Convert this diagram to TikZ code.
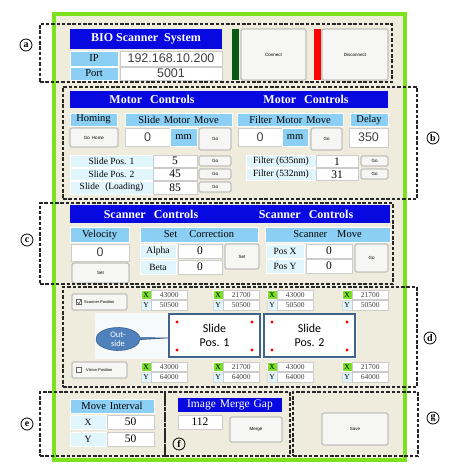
\documentclass[tikz,border=0pt]{standalone}
\usepackage{fontspec}
\setmainfont{Liberation Serif}
\newfontfamily\sansf{Liberation Sans}
\newfontfamily\calib{Carlito}
\usetikzlibrary{shapes.geometric,shapes.callouts}
\definecolor{barblue}{RGB}{8,8,224}
\definecolor{hdrblue}{RGB}{140,207,245}
\definecolor{palecyan}{RGB}{225,245,252}
\definecolor{beige}{RGB}{239,236,222}
\definecolor{btnfill}{RGB}{246,246,244}
\definecolor{btnedge}{RGB}{150,150,150}
\definecolor{framegreen}{RGB}{125,225,30}
\definecolor{dkgreen}{RGB}{10,90,20}
\definecolor{calloutblue}{RGB}{79,129,189}
\definecolor{calloutedge}{RGB}{56,93,138}
\definecolor{slideedge}{RGB}{65,100,140}
\definecolor{xgreen}{RGB}{120,225,40}
\definecolor{panelwhite}{RGB}{246,250,250}
\newcommand\cell[7]{\node[#2,minimum width={(#5-(#3))*1pt},minimum height={(#6-(#4))*1pt}] (#1) at (#3,#4) {#7};}
\newcommand\coordpair[5]{%
  \cell{#1x}{xlab}{#2}{#3}{#2+10}{#3+9.5}{X}
  \cell{#1xv}{cval}{#2+10.5}{#3}{#2+46}{#3+9.5}{#4}
  \cell{#1y}{ylab}{#2}{#3+10}{#2+10}{#3+20}{Y}
  \cell{#1yv}{cval}{#2+10.5}{#3+10}{#2+46}{#3+20}{#5}}
\tikzset{
  cellbase/.style={anchor=north west,inner sep=0pt,outer sep=0pt},
  bluebar/.style={cellbase,fill=barblue,text=white,font=\fontsize{12}{12}\selectfont\bfseries},
  plainbar/.style={cellbase,fill=barblue,text=white,font=\fontsize{11.5}{12}\selectfont},
  bartext/.style={text=white,inner sep=0pt,font=\fontsize{12}{12}\selectfont\bfseries},
  hdr/.style={cellbase,fill=hdrblue,draw=white,line width=0.6pt,font=\fontsize{10.5}{10.5}\selectfont},
  pale/.style={cellbase,fill=palecyan,draw=white,line width=0.6pt,font=\fontsize{9.5}{9.5}\selectfont},
  valbox/.style={cellbase,fill=white,draw=black!20,line width=0.5pt,font=\fontsize{11.5}{11.5}\selectfont},
  svalbox/.style={cellbase,fill=white,draw=black!20,line width=0.5pt,font=\sansf\fontsize{12.5}{12.5}\selectfont\color{black!75}},
  btn/.style={cellbase,fill=btnfill,draw=btnedge,line width=0.6pt,rounded corners=1.5pt,font=\sansf\fontsize{4.5}{4.5}\selectfont},
  sect/.style={cellbase,draw=black!85,line width=1.2pt,dash pattern=on 3.5pt off 1.8pt},
  circlbl/.style={circle,draw,line width=0.8pt,inner sep=0pt,minimum size=12pt,font=\bfseries\fontsize{10}{10}\selectfont},
  xlab/.style={cellbase,fill=xgreen,draw=white,line width=0.5pt,font=\fontsize{7.5}{7.5}\selectfont},
  ylab/.style={cellbase,fill=palecyan,draw=black!15,line width=0.5pt,font=\fontsize{7.5}{7.5}\selectfont},
  cval/.style={cellbase,fill=white,draw=black!20,line width=0.5pt,font=\fontsize{7.5}{7.5}\selectfont\color{black!75}},
  slidebox/.style={cellbase,fill=white,draw=slideedge,line width=1.3pt,align=center,font=\calib\fontsize{12}{14}\selectfont},
  rdot/.style={circle,fill=red,inner sep=0pt,minimum size=3.2pt},
  chk/.style={draw=black!60,fill=white,line width=0.5pt,inner sep=0pt,minimum size=5pt},
  smalltxt/.style={inner sep=0pt,font=\sansf\fontsize{4}{4}\selectfont},
}
\begin{document}
\begin{tikzpicture}[x=1pt,y=-1pt]
\useasboundingbox (0,0) rectangle (449,470);
\fill[white] (0,0) rectangle (449,470);
% main frame
\cell{frame}{cellbase,fill=beige,draw=framegreen,line width=4pt}{54}{14}{405}{460}{}
% ===== section a =====
\cell{title}{bluebar}{70}{29}{222}{49}{BIO Scanner\hspace{6pt}System}
\cell{ipl}{hdr}{70}{51}{118}{66}{IP}
\cell{ipv}{svalbox}{120}{51}{222}{66}{192.168.10.200}
\cell{portl}{hdr}{70}{67}{118}{80}{Port}
\cell{portv}{svalbox}{120}{67}{222}{80}{5001}
\cell{gbar}{cellbase,fill=dkgreen}{232}{29}{239}{80}{}
\cell{connect}{btn}{241}{29}{306}{80}{Connect}
\cell{rbar}{cellbase,fill=red}{314}{29}{321}{80}{}
\cell{disconnect}{btn}{322}{29}{388}{80}{Disconnect}
% ===== section b =====
\cell{mcbar}{cellbase,fill=barblue}{70}{91}{388}{108}{}
\node[bartext] (mc1) at (152,99.5) {Motor\hspace{8pt}Controls};
\node[bartext] (mc2) at (306,99.5) {Motor\hspace{8pt}Controls};
\cell{homh}{hdr}{70}{113}{117}{126}{Homing}
\cell{smh}{hdr}{125}{113}{232}{126}{Slide\hspace{4pt}Motor\hspace{4pt}Move}
\cell{fmh}{hdr}{237}{113}{343}{126}{Filter\hspace{4pt}Motor\hspace{4pt}Move}
\cell{delh}{hdr}{350}{113}{388}{126}{Delay}
\cell{gohome}{btn}{70}{128}{118}{147}{Go\hspace{2pt}Home}
\cell{sval}{svalbox}{125}{128}{170}{146}{0}
\cell{smm}{hdr}{170}{128}{197}{146}{mm}
\cell{sgo}{btn}{199}{128}{231}{150}{Go}
\cell{fval}{svalbox}{238}{128}{282}{146}{0}
\cell{fmm}{hdr}{282}{128}{308}{146}{mm}
\cell{fgo}{btn}{311}{128}{342}{150}{Go}
\cell{delv}{svalbox}{349}{128}{388}{147}{350}
\cell{sp1l}{pale}{70}{155}{153}{167.5}{Slide Pos. 1}
\cell{sp1v}{valbox}{153}{155}{197}{167.5}{5}
\cell{sp1g}{btn}{199}{156}{231}{166}{Go}
\cell{sp2l}{pale}{70}{168}{153}{180.5}{Slide Pos. 2}
\cell{sp2v}{valbox}{153}{168}{197}{180.5}{45}
\cell{sp2g}{btn}{199}{169}{231}{179}{Go}
\cell{sp3l}{pale}{70}{181}{153}{194}{Slide\hspace{6pt}(Loading)}
\cell{sp3v}{valbox}{153}{181}{197}{194}{85}
\cell{sp3g}{btn}{199}{182}{231}{192}{Go}
\cell{f1l}{pale}{246}{155}{316}{167.5}{Filter (635nm)}
\cell{f1v}{valbox}{316}{155}{358}{167.5}{1}
\cell{f1g}{btn}{361}{156}{388}{166}{Go}
\cell{f2l}{pale}{246}{168}{316}{180.5}{Filter (532nm)}
\cell{f2v}{valbox}{316}{168}{358}{180.5}{31}
\cell{f2g}{btn}{361}{169}{388}{179}{Go}
% ===== section c =====
\cell{scbar}{cellbase,fill=barblue}{70}{205}{390}{223}{}
\node[bartext] (sc1) at (151,214) {Scanner\hspace{8pt}Controls};
\node[bartext] (sc2) at (306,214) {Scanner\hspace{8pt}Controls};
\cell{velh}{hdr}{70}{227}{129}{242}{Velocity}
\cell{scorh}{hdr}{140}{227}{258}{242}{Set\hspace{12pt}Correction}
\cell{smvh}{hdr}{265}{227}{390}{242}{Scanner\hspace{10pt}Move}
\cell{velv}{svalbox}{71}{244}{129}{261}{0}
\cell{velset}{btn}{72}{263}{129}{283}{Set}
\cell{alphl}{pale}{140}{244}{176}{258}{Alpha}
\cell{alphv}{valbox}{178}{244}{222}{258}{0}
\cell{betal}{pale}{140}{260}{176}{274}{Beta}
\cell{betav}{valbox}{178}{260}{222}{274}{0}
\cell{corset}{btn}{225}{244}{259}{269}{Set}
\cell{pxl}{pale}{266}{244}{304}{258}{Pos X}
\cell{pxv}{valbox}{306}{244}{352}{258}{0}
\cell{pyl}{pale}{266}{259}{304}{273}{Pos Y}
\cell{pyv}{valbox}{306}{259}{352}{273}{0}
\cell{smgo}{btn}{355}{244}{388}{272}{Go}
% ===== section d =====
\cell{panel}{cellbase,fill=panelwhite}{95}{313}{357}{359}{}
\cell{scanpos}{btn}{72}{294}{127}{310}{}
\node[chk] (ck1) at (79,302) {};
\draw[line width=0.6pt,black!70] ([xshift=1pt]ck1.west) -- ([yshift=1.1pt]ck1.south) -- ([xshift=-0.9pt,yshift=-0.9pt]ck1.north east);
\node[smalltxt,anchor=west] (scantxt) at (84,302) {Scanner Position};
\cell{vispos}{btn}{72}{362}{127}{378}{}
\node[chk] (ck2) at (79,370) {};
\node[smalltxt,anchor=west] (vistxt) at (86,370) {Vision Position};
\coordpair{ta}{141}{290}{43000}{50500}
\coordpair{tb}{213}{290}{21700}{50500}
\coordpair{tc}{267}{290}{43000}{50500}
\coordpair{td}{342}{290}{21700}{50500}
\coordpair{ba}{141}{362}{43000}{64000}
\coordpair{bb}{213}{362}{21700}{64000}
\coordpair{bc}{267}{362}{43000}{64000}
\coordpair{bd}{342}{362}{21700}{64000}
\cell{slide1}{slidebox}{169}{314}{260}{357}{Slide\\Pos. 1}
\cell{slide2}{slidebox}{264}{314}{355}{357}{Slide\\Pos. 2}
\node[rdot] (r1) at (177,322) {};
\node[rdot] (r2) at (252,322) {};
\node[rdot] (r3) at (177,350) {};
\node[rdot] (r4) at (252,350) {};
\node[rdot] (r5) at (272,322) {};
\node[rdot] (r6) at (347,322) {};
\node[rdot] (r7) at (272,350) {};
\node[rdot] (r8) at (347,350) {};
\node[ellipse callout,fill=calloutblue,draw=calloutedge,line width=0.6pt,text=white,minimum width=44pt,minimum height=23pt,inner sep=0pt,callout absolute pointer={(168,338)},callout pointer arc=10,align=center,font=\calib\fontsize{8.5}{9}\selectfont] (outside) at (118,339) {Out-\\side};
% ===== section e =====
\cell{mih}{hdr}{70}{399}{154}{413}{Move\hspace{4pt}Interval}
\cell{mixl}{pale}{70}{415}{106}{429}{X}
\cell{mixv}{valbox}{107}{415}{154}{429}{50}
\cell{miyl}{pale}{70}{432}{106}{446}{Y}
\cell{miyv}{valbox}{107}{432}{154}{446}{50}
% ===== section f =====
\cell{img}{plainbar}{178}{398}{282}{412}{Image\hspace{4pt}Merge\hspace{4pt}Gap}
\cell{gapv}{valbox}{178}{415}{222}{429}{112}
\cell{merge}{btn}{230}{417}{282}{442}{Merge}
% ===== section g =====
\cell{save}{btn}{322}{413}{388}{445}{Save}
% ===== dashed section boxes =====
\cell{secA}{sect}{40}{24}{392}{82}{}
\cell{secB}{sect}{63}{87}{417}{199}{}
\cell{secC}{sect}{40}{203}{393}{284}{}
\cell{secD}{sect}{63}{287}{417}{387}{}
\cell{secE}{sect}{40}{392}{165}{456}{}
\cell{secF}{sect}{165}{392}{290}{456}{}
\cell{secG}{sect}{293}{392}{418}{456}{}
% ===== circled labels =====
\node[circlbl] (la) at (26,45) {a};
\node[circlbl] (lb) at (433,138) {b};
\node[circlbl] (lc) at (27,240) {c};
\node[circlbl] (ld) at (430,338) {d};
\node[circlbl] (le) at (27,424) {e};
\node[circlbl] (lf) at (179,444) {f};
\node[circlbl] (lg) at (433,418) {g};
\end{tikzpicture}
\end{document}
